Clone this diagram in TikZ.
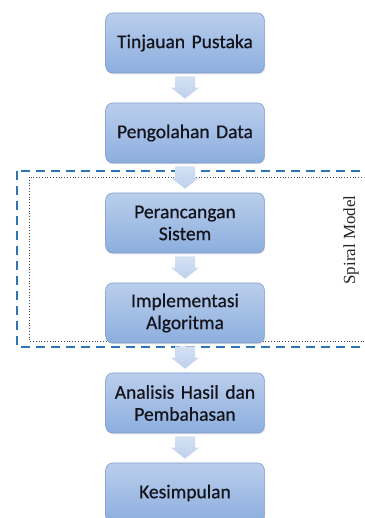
\documentclass[tikz,border=0pt]{standalone}
\usepackage{fontspec}
\newfontfamily\boxfont[FakeBold=0.6]{Carlito}
\newfontfamily\labelfont{Liberation Serif}
\usetikzlibrary{shadows,calc}

\definecolor{boxtop}{RGB}{186,206,236}
\definecolor{boxbot}{RGB}{140,174,222}
\definecolor{boxline}{RGB}{128,158,204}
\definecolor{arrtop}{RGB}{212,225,244}
\definecolor{arrbot}{RGB}{190,208,236}
\definecolor{spiralblue}{RGB}{46,117,182}
\definecolor{boxtext}{RGB}{20,20,28}

% box text: Carlito with slightly tighter word spaces
\newcommand{\stepfont}{\boxfont\fontsize{19.5}{22}\selectfont
  \spaceskip=3.6pt plus 1pt minus 1pt\relax}

\tikzset{
  stepbox/.style={
    draw=boxline, line width=0.6pt, rounded corners=7pt,
    top color=boxtop, bottom color=boxbot,
    minimum width=155pt, minimum height=60pt,
    text width=152pt, align=center, text=boxtext,
    font=\stepfont,
    drop shadow={shadow xshift=0.8pt, shadow yshift=-1.2pt, opacity=0.25}
  },
  flowarrow/.style={top color=arrtop, bottom color=arrbot, draw=none},
  groupframe/.style={draw=spiralblue, line width=2.4pt, dash pattern=on 9pt off 6pt},
  innerframe/.style={draw=black!75, line width=0.8pt, dotted},
  sidelabel/.style={font=\labelfont\fontsize{17}{19}\selectfont, rotate=90, text=black!85}
}

% block arrow from the bottom of one step to the top of the next
\newcommand{\blockarrow}[2]{%
  \path[flowarrow] let \p1=(#1.south), \p2=(#2.north) in
    (\x1-10pt,\y1-3pt) -- (\x1+10pt,\y1-3pt) -- (\x1+10pt,\y2+15pt)
    -- (\x1+14pt,\y2+15pt) -- (\x1,\y2+4pt) -- (\x1-14pt,\y2+15pt)
    -- (\x1-10pt,\y2+15pt) -- cycle;}

\begin{document}
\begin{tikzpicture}[x=1pt,y=1pt]
\useasboundingbox (0,0) rectangle (364,518);
\clip (0,0) rectangle (364,518);

% spiral model group
\draw[innerframe] (29,{518-177}) rectangle (380,{518-341});
\draw[groupframe] (17,{518-171}) rectangle (380,{518-347});
\node[sidelabel] (spiral) at (351,{518-240}) {Spiral Model};

% steps
\node[stepbox] (s1) at (185,{518-43}) {Tinjauan Pustaka};
\node[stepbox] (s2) at (185,{518-133}) {Pengolahan Data};
\node[stepbox] (s3) at (185,{518-223}) {Perancangan\\Sistem};
\node[stepbox] (s4) at (185,{518-313}) {Implementasi\\Algoritma};
\node[stepbox] (s5) at (185,{518-403}) {Analisis Hasil dan\\Pembahasan};
\node[stepbox] (s6) at (185,{518-493}) {Kesimpulan};

\blockarrow{s1}{s2}
\blockarrow{s2}{s3}
\blockarrow{s3}{s4}
\blockarrow{s4}{s5}
\blockarrow{s5}{s6}
\end{tikzpicture}
\end{document}
